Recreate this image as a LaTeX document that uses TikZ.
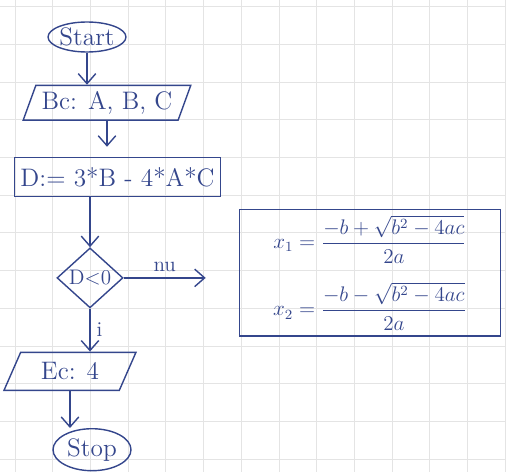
\documentclass[tikz,border=0pt]{standalone}
\usepackage{amsmath,amssymb}
\usepackage{tikz}
\usetikzlibrary{positioning,arrows.meta,shapes.geometric}
\usepackage{xcolor}
\definecolor{ink}{HTML}{34468C}
\definecolor{paper}{HTML}{E4E4E4}

\begin{document}
\begin{tikzpicture}[
    ink/.style={draw=ink, line width=0.8pt, text=ink, font=\Large},
    term/.style={ink, ellipse, inner sep=0pt},
    io/.style={ink, trapezium, trapezium stretches=true, trapezium left angle=70, trapezium right angle=110, align=center},
    block/.style={ink, rectangle, align=center},
    test/.style={ink, diamond, inner sep=-4pt, minimum width=1.32cm, minimum height=1.2cm, font=\large},
    arrow/.style={-{Straight Barb[length=2mm,width=3.5mm]}, draw=ink, line width=0.8pt},
    lbl/.style={text=ink, font=\large},
]
\useasboundingbox (0,0) rectangle (10.12,-9.44);
% graph paper
\foreach \i in {0,...,13} \draw[paper, line width=0.5pt] (0.302+0.754*\i,0) -- ++(0,-9.44);
\foreach \j in {0,...,12} \draw[paper, line width=0.5pt] (0,-0.134-0.754*\j) -- ++(10.12,0);

\node[term, minimum width=1.44cm, minimum height=0.6cm] (start) at (1.74,-0.74) {Start};
\node[io, minimum width=3.38cm, minimum height=0.68cm, below=0.64 of start, xshift=0.4cm] (in) {Bc: A, B, C};
\node[block, minimum width=4.1cm, minimum height=0.78cm, below=0.72 of in, xshift=0.21cm] (calc) {D:= 3*B - 4*A*C};
\node[test, below=1.0 of calc, xshift=-0.55cm] (test) {D$<$0};
\node[io, trapezium left angle=68, trapezium right angle=112, minimum width=2.64cm, minimum height=0.76cm, below=0.86 of test, xshift=-0.4cm] (out) {Ec: 4};
\node[term, minimum width=1.56cm, minimum height=0.84cm, below=0.74 of out, xshift=0.44cm] (stop) {Stop};
\node[block, minimum width=5.22cm, minimum height=2.3cm, right=2.3 of test, yshift=0.1cm, font=\large] (roots)
    {$x_1 = \dfrac{-b+\sqrt{b^2-4ac}}{2a}$\\[10pt] $x_2 = \dfrac{-b-\sqrt{b^2-4ac}}{2a}$};
\coordinate[right=1.64 of test.east] (noend);

\draw[arrow] (start.south) -- (start.south |- in.north);
\draw[arrow, shorten >=0.2cm] (in.south) -- (in.south |- calc.north);
\draw[arrow] (test.north |- calc.south) -- (test.north);
\draw[arrow] (test.east) -- (noend) node[lbl, midway, above] {nu};
\draw[arrow] (test.south) -- (test.south |- out.north) node[lbl, midway, right] {i};
\draw[arrow] (out.south) -- (out.south |- stop.north);
\end{tikzpicture}
\end{document}
